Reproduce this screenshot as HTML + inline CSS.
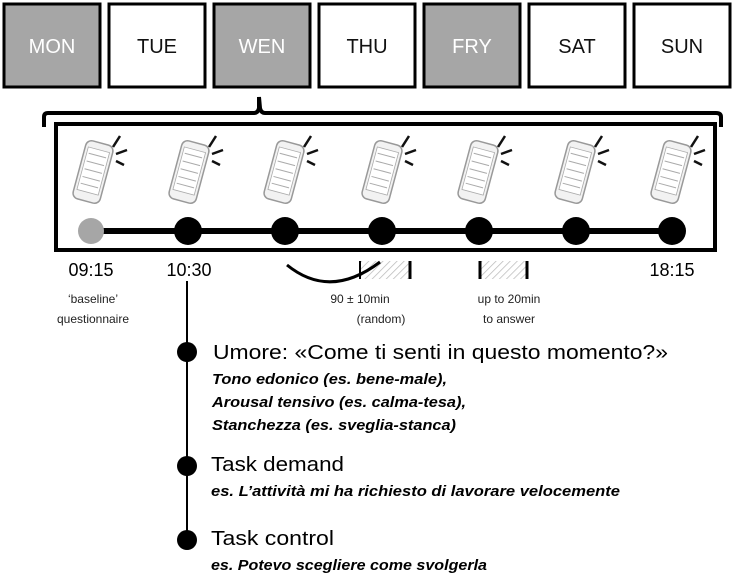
<!DOCTYPE html>
<html><head><meta charset="utf-8"><style>
html,body{margin:0;padding:0;background:#fff;}
svg{display:block;font-family:"Liberation Sans",sans-serif;}
</style></head><body>
<svg width="742" height="578" viewBox="0 0 742 578" xmlns="http://www.w3.org/2000/svg">
<defs>
<pattern id="hatch" width="5" height="5" patternUnits="userSpaceOnUse" patternTransform="rotate(45)">
<rect width="5" height="5" fill="#fff"/><line x1="0" y1="0" x2="0" y2="5" stroke="#bbb" stroke-width="1.5"/>
</pattern>
<g id="phone">
<g transform="rotate(15)">
<rect x="-14" y="-30" width="28" height="60" rx="6" fill="#f2f2f2" stroke="#999" stroke-width="1.5"/>
<rect x="-11" y="-23" width="22" height="44" fill="#fff" stroke="#aaa" stroke-width="0.8"/>
<line x1="-9" y1="-17" x2="9" y2="-17" stroke="#aaa"/>
<line x1="-9" y1="-9" x2="9" y2="-9" stroke="#aaa"/>
<line x1="-9" y1="-1" x2="9" y2="-1" stroke="#aaa"/>
<line x1="-9" y1="7" x2="9" y2="7" stroke="#aaa"/>
<line x1="-9" y1="14" x2="9" y2="14" stroke="#aaa"/>
</g>
<line x1="20" y1="-25" x2="27" y2="-36" stroke="#111" stroke-width="2.5"/>
<line x1="23" y1="-18" x2="34" y2="-22" stroke="#111" stroke-width="2.5"/>
<line x1="23" y1="-11" x2="31" y2="-7" stroke="#111" stroke-width="2.5"/>
</g>
</defs>

<g stroke="#000" stroke-width="3">
<rect x="4" y="4" width="96" height="83" fill="#a6a6a6"/>
<rect x="109" y="4" width="96" height="83" fill="#fff"/>
<rect x="214" y="4" width="96" height="83" fill="#a6a6a6"/>
<rect x="319" y="4" width="96" height="83" fill="#fff"/>
<rect x="424" y="4" width="96" height="83" fill="#a6a6a6"/>
<rect x="529" y="4" width="96" height="83" fill="#fff"/>
<rect x="634" y="4" width="96" height="83" fill="#fff"/>
</g>
<g font-size="20" text-anchor="middle" fill="#111">
<text x="52" y="53" fill="#fff">MON</text>
<text x="157" y="53">TUE</text>
<text x="262" y="53" fill="#fff">WEN</text>
<text x="367" y="53">THU</text>
<text x="472" y="53" fill="#fff">FRY</text>
<text x="577" y="53">SAT</text>
<text x="682" y="53">SUN</text>
</g>

<path d="M44 127 L44 117 Q44 113 48 113 L254 113 Q258 113 259 108 L259 97 L260 108 Q261 113 265 113 L716 113 Q721 113 721 117 L721 127" fill="none" stroke="#000" stroke-width="4"/>

<rect x="56" y="124" width="659" height="126" fill="#fff" stroke="#000" stroke-width="4"/>

<use href="#phone" x="93" y="172"/>
<use href="#phone" x="189" y="172"/>
<use href="#phone" x="284" y="172"/>
<use href="#phone" x="382" y="172"/>
<use href="#phone" x="478" y="172"/>
<use href="#phone" x="575" y="172"/>
<use href="#phone" x="671" y="172"/>

<line x1="89" y1="231" x2="672" y2="231" stroke="#000" stroke-width="6"/>
<circle cx="91" cy="231" r="13" fill="#a6a6a6"/>
<circle cx="188" cy="231" r="14" fill="#000"/>
<circle cx="285" cy="231" r="14" fill="#000"/>
<circle cx="382" cy="231" r="14" fill="#000"/>
<circle cx="479" cy="231" r="14" fill="#000"/>
<circle cx="576" cy="231" r="14" fill="#000"/>
<circle cx="672" cy="231" r="14" fill="#000"/>

<g font-size="18" text-anchor="middle">
<text x="91" y="276">09:15</text>
<text x="189" y="276">10:30</text>
<text x="672" y="276">18:15</text>
</g>
<g font-size="12" text-anchor="middle" fill="#222">
<text x="93" y="303">‘baseline’</text>
<text x="93" y="323">questionnaire</text>
<text x="360" y="303">90 ± 10min</text>
<text x="381" y="323">(random)</text>
<text x="509" y="303">up to 20min</text>
<text x="509" y="323">to answer</text>
</g>

<rect x="360" y="261" width="50" height="18" fill="url(#hatch)"/>
<path d="M287 265 Q330 300 380 262" fill="none" stroke="#000" stroke-width="3"/>
<line x1="360" y1="261" x2="360" y2="279" stroke="#000" stroke-width="2"/>
<line x1="410" y1="261" x2="410" y2="279" stroke="#000" stroke-width="3"/>
<rect x="480" y="261" width="47" height="18" fill="url(#hatch)"/>
<line x1="480" y1="261" x2="480" y2="279" stroke="#000" stroke-width="3"/>
<line x1="527" y1="261" x2="527" y2="279" stroke="#000" stroke-width="3"/>

<line x1="187" y1="281" x2="187" y2="542" stroke="#000" stroke-width="2"/>
<circle cx="187" cy="352" r="10" fill="#000"/>
<circle cx="187" cy="466" r="10" fill="#000"/>
<circle cx="187" cy="540" r="10" fill="#000"/>

<g font-size="20">
<text x="213" y="359" textLength="455" lengthAdjust="spacingAndGlyphs">Umore: «Come ti senti in questo momento?»</text>
<text x="211" y="471" textLength="133" lengthAdjust="spacingAndGlyphs">Task demand</text>
<text x="211" y="545" textLength="123" lengthAdjust="spacingAndGlyphs">Task control</text>
</g>
<g font-size="15" font-style="italic" font-weight="bold">
<text x="212" y="384" textLength="235" lengthAdjust="spacingAndGlyphs">Tono edonico (es. bene-male),</text>
<text x="212" y="407" textLength="254" lengthAdjust="spacingAndGlyphs">Arousal tensivo (es. calma-tesa),</text>
<text x="212" y="430" textLength="244" lengthAdjust="spacingAndGlyphs">Stanchezza (es. sveglia-stanca)</text>
<text x="211" y="496" textLength="409" lengthAdjust="spacingAndGlyphs">es. L’attività mi ha richiesto di lavorare velocemente</text>
<text x="211" y="570" textLength="276" lengthAdjust="spacingAndGlyphs">es. Potevo scegliere come svolgerla</text>
</g>
</svg>
</body></html>
